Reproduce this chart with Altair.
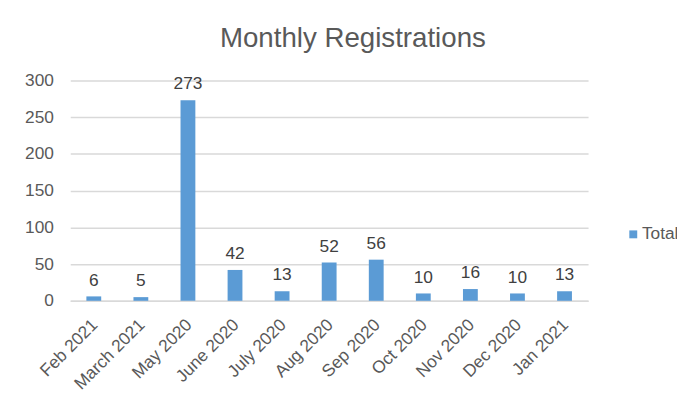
import altair as alt
import pandas as pd

months = ["Feb 2021", "March 2021", "May 2020", "June 2020", "July 2020", "Aug 2020",
          "Sep 2020", "Oct 2020", "Nov 2020", "Dec 2020", "Jan 2021"]
totals = [6, 5, 273, 42, 13, 52, 56, 10, 16, 10, 13]
series = ["Total"] * len(months)

df = pd.DataFrame({"Month": months, "Total": totals, "Series": series})

FONT = "Liberation Sans"
GRAY = "#595959"

base = alt.Chart(df).encode(
    x=alt.X("Month:N", sort=months,
            scale=alt.Scale(paddingInner=0.685, paddingOuter=0.3425),
            axis=alt.Axis(title=None, labelAngle=-45, labelFontSize=17.5, labelColor=GRAY,
                          labelFont=FONT, ticks=False, domainColor="#d9d9d9",
                          domainWidth=1.5, labelPadding=15, labelOffset=-5, grid=False)),
    y=alt.Y("Total:Q", scale=alt.Scale(domain=[0, 300], nice=False),
            axis=alt.Axis(title=None, values=[0, 50, 100, 150, 200, 250, 300],
                          labelFontSize=17.5, labelColor=GRAY, labelFont=FONT,
                          ticks=False, domain=False, gridColor="#d9d9d9",
                          gridWidth=1.5, labelPadding=17)),
)

bars = base.mark_bar().encode(
    color=alt.Color("Series:N", scale=alt.Scale(range=["#5b9bd5"]),
                    legend=alt.Legend(title=None, orient="none", legendX=561, legendY=147,
                                      labelFontSize=17.5, labelColor=GRAY, labelFont=FONT,
                                      symbolType="square", symbolSize=64, padding=0,
                                      symbolStrokeWidth=0, labelOffset=0))
)

labels = base.mark_text(font=FONT, fontSize=17.5, color="#404040", baseline="alphabetic",
                        dy=-11).encode(text="Total:Q")

chart = alt.layer(bars, labels).properties(
    width=524, height=223,
    padding={"left": 63, "top": 71, "right": 90, "bottom": 92},
    autosize=alt.AutoSizeParams(type="none"),
    title=alt.TitleParams("Monthly Registrations", font=FONT, fontSize=28, color=GRAY,
                          fontWeight="normal", dx=24, offset=19),
).configure(background="white").configure_view(stroke=None)

chart.save("out.html", embed_options={"renderer": "svg", "actions": False})
